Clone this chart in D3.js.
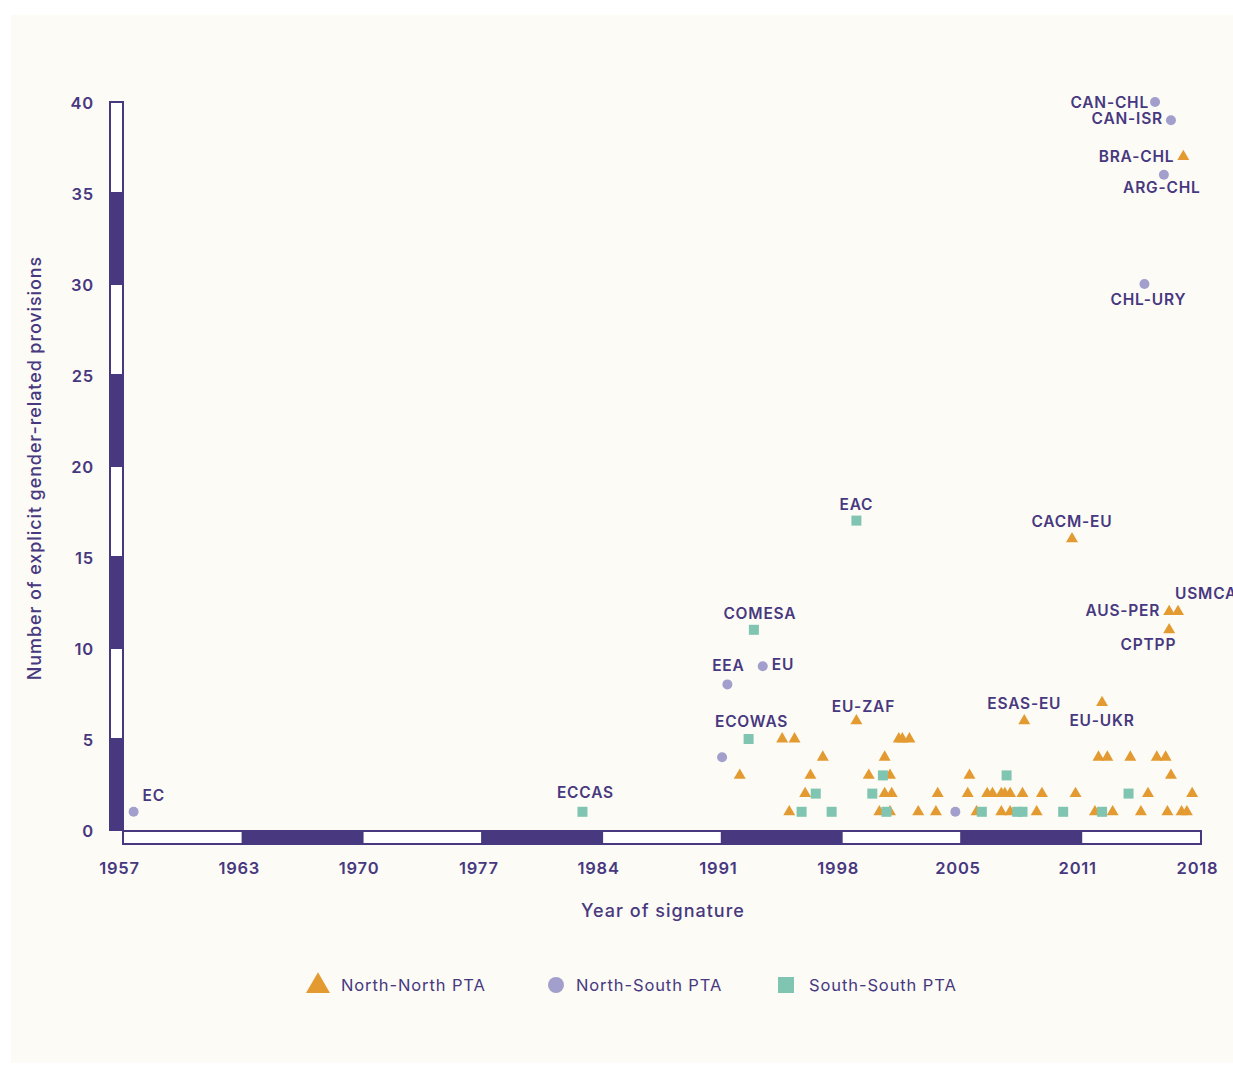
<!DOCTYPE html>
<html><head><meta charset="utf-8">
<script src="https://cdn.jsdelivr.net/npm/d3@7"></script>
<style>
html,body{margin:0;padding:0;background:#fff;}
svg{display:block;}
text{font-family:Inter,"Open Sans",sans-serif;}
</style></head>
<body>
<svg id="chart" width="1233" height="1065"></svg>
<script>
// ---------- data ----------
const xTickLabels = ["1957","1963","1970","1977","1984","1991","1998","2005","2011","2018"];
const yTickValues = [0,5,10,15,20,25,30,35,40];
const seriesNames = ["North-North PTA","North-South PTA","South-South PTA"];

const northNorth = [ // [year, provisions, label]
  [1998.5,6,"EU-ZAF"],[1994.3,5],[1995.0,5],[2000.9,5],[2001.1,5],[2001.5,5],
  [1996.6,4],[2000.1,4],[1991.9,3],[1995.9,3],[1999.2,3],[2000.4,3],
  [1995.6,2],[2000.1,2],[2000.5,2],[2003.1,2],
  [1994.7,1],[1999.8,1],[2000.4,1],[2002.0,1],[2003.0,1],
  [2008.0,6,"ESAS-EU"],[2012.4,7,"EU-UKR"],[2010.7,16,"CACM-EU"],[2017.0,37,"BRA-CHL"],
  [2016.2,12,"AUS-PER"],[2016.7,12,"USMCA"],[2016.2,11,"CPTPP"],
  [2012.2,4],[2012.7,4],[2014.0,4],[2015.5,4],[2016.0,4],
  [2004.9,3],[2016.3,3],
  [2004.8,2],[2005.9,2],[2006.2,2],[2006.7,2],[2006.9,2],[2007.2,2],[2007.9,2],[2009.0,2],[2010.9,2],[2015.0,2],[2017.5,2],
  [2005.3,1],[2006.7,1],[2007.2,1],[2008.7,1],[2012.0,1],[2013.0,1],[2014.6,1],[2016.1,1],[2016.9,1],[2017.2,1]
];
const northSouth = [
  [1957.6,1,"EC"],[1991.2,8,"EEA"],[1993.2,9,"EU"],[1990.9,4],[2004.1,1],
  [2015.4,40,"CAN-CHL"],[2016.3,39,"CAN-ISR"],[2015.9,36,"ARG-CHL"],[2014.8,30,"CHL-URY"]
];
const southSouth = [
  [1983.0,1,"ECCAS"],[1992.7,11,"COMESA"],[1992.4,5,"ECOWAS"],[1998.5,17,"EAC"],
  [1996.2,2],[1995.4,1],[1997.1,1],[2000.0,3],[1999.4,2],[2000.2,1],
  [2007.0,3],[2005.6,1],[2007.6,1],[2007.9,1],[2010.2,1],[2012.4,1],[2013.9,2]
];

// ---------- layout / style ----------
const PURPLE = "#47387f", ORANGE = "#e39b31", LAVENDER = "#a29fcc", TEAL = "#80c5b1", BG = "#fcfbf6";
const labelPlace = { // anchor, dx, dy relative to the point
  "EC":["start",9,-16], "ECCAS":["middle",3,-19], "EEA":["middle",1,-19], "EU":["start",9,-2],
  "COMESA":["middle",6,-16], "ECOWAS":["middle",3,-18], "EAC":["middle",0,-16], "EU-ZAF":["middle",7,-14],
  "ESAS-EU":["middle",0,-17], "EU-UKR":["middle",0,18], "CACM-EU":["middle",0,-17],
  "USMCA":["start",-3,-18], "AUS-PER":["end",-9,-1], "CPTPP":["end",7,15],
  "CAN-CHL":["end",-6,0], "CAN-ISR":["end",-8,-2], "BRA-CHL":["end",-9,0],
  "ARG-CHL":["middle",-2,13], "CHL-URY":["middle",4,15]
};

const svg = d3.select("#chart");
svg.append("rect").attr("x",11).attr("y",15).attr("width",1222).attr("height",1048).attr("fill",BG);

const x = d3.scaleLinear().domain([1957,2018]).range([123,1201]);
const y = d3.scaleLinear().domain([0,40]).range([830,102]);
const xTicks = xTickLabels.map((d,i)=>1957 + i*61/(xTickLabels.length-1));

// y-axis bar
const yBar = svg.append("g");
yBar.selectAll("rect").data(d3.pairs(yTickValues)).join("rect")
  .attr("x",110).attr("width",13)
  .attr("y",d=>y(d[1])).attr("height",d=>y(d[0])-y(d[1]))
  .attr("fill",(d,i)=> i%2===0 ? PURPLE : "#fff")
  .attr("stroke",PURPLE).attr("stroke-width",2);
// x-axis bar
const xBar = svg.append("g");
xBar.selectAll("rect").data(d3.pairs(xTicks)).join("rect")
  .attr("y",831).attr("height",13)
  .attr("x",d=>x(d[0])).attr("width",d=>x(d[1])-x(d[0]))
  .attr("fill",(d,i)=> i%2===1 ? PURPLE : "#fff")
  .attr("stroke",PURPLE).attr("stroke-width",2);

// axes (labels only) using d3 axis generators
const yAxis = d3.axisLeft(y).tickValues(yTickValues).tickSize(0).tickPadding(0);
const gy = svg.append("g").attr("transform","translate(94,1)").call(yAxis);
const xAxis = d3.axisBottom(x).tickValues(xTicks).tickFormat((d,i)=>xTickLabels[i]).tickSize(0).tickPadding(0);
const gx = svg.append("g").attr("transform","translate(-4,862)").call(xAxis);
[gy,gx].forEach(g=>{
  g.select(".domain").remove();
  g.selectAll("text").attr("fill",PURPLE).attr("font-size",16.5).attr("font-weight",600)
   .attr("font-family","Inter, sans-serif").attr("letter-spacing",0.8);
});
gy.selectAll("text").attr("dy","0.35em");
gx.selectAll("text").attr("dy","0.71em");

// axis titles
svg.append("text").attr("x",663).attr("y",917).attr("text-anchor","middle")
  .attr("fill",PURPLE).attr("font-size",18).attr("font-weight",500).attr("letter-spacing",1)
  .text("Year of signature");
svg.append("text").attr("transform","translate(41,468) rotate(-90)").attr("text-anchor","middle")
  .attr("fill",PURPLE).attr("font-size",18).attr("font-weight",500).attr("letter-spacing",0.9)
  .text("Number of explicit gender-related provisions");

// points
const tri = d3.symbol().type(d3.symbolTriangle).size(62);
const pts = svg.append("g");
pts.selectAll("path.nn").data(northNorth).join("path").attr("class","nn")
  .attr("d",tri).attr("fill",ORANGE)
  .attr("transform",d=>`translate(${x(d[0])},${y(d[1])})`);
pts.selectAll("circle.ns").data(northSouth).join("circle").attr("class","ns")
  .attr("cx",d=>x(d[0])).attr("cy",d=>y(d[1])).attr("r",5).attr("fill",LAVENDER);
const sq = d3.symbol().type(d3.symbolSquare).size(100);
pts.selectAll("path.ss").data(southSouth).join("path").attr("class","ss")
  .attr("d",sq).attr("fill",TEAL)
  .attr("transform",d=>`translate(${x(d[0])},${y(d[1])})`);

// labels
const labelled = [...northNorth,...northSouth,...southSouth].filter(d=>d[2]);
svg.append("g").selectAll("text").data(labelled).join("text")
  .attr("x",d=>x(d[0]) + labelPlace[d[2]][1])
  .attr("y",d=>y(d[1]) + labelPlace[d[2]][2])
  .attr("text-anchor",d=>labelPlace[d[2]][0])
  .attr("dominant-baseline","central")
  .attr("fill",PURPLE).attr("font-size",15.5).attr("font-weight",600).attr("letter-spacing",0.8)
  .text(d=>d[2]);

// legend
const legend = svg.append("g").attr("transform","translate(0,985)");
const legendX = [318,556,786];
const legendShapes = [d3.symbolTriangle, d3.symbolCircle, d3.symbolSquare];
const legendColors = [ORANGE, LAVENDER, TEAL];
const legendSizes = [250, 200, 256];
seriesNames.forEach((name,i)=>{
  legend.append("path").attr("d",d3.symbol().type(legendShapes[i]).size(legendSizes[i]))
    .attr("transform",`translate(${legendX[i]},${i===0?1:0})`).attr("fill",legendColors[i]);
  legend.append("text").attr("x",legendX[i]+(i===1?20:23)).attr("y",0).attr("dominant-baseline","central")
    .attr("fill",PURPLE).attr("font-size",16.5).attr("font-weight",400).attr("letter-spacing",0.9)
    .text(name);
});
</script>
</body></html>
